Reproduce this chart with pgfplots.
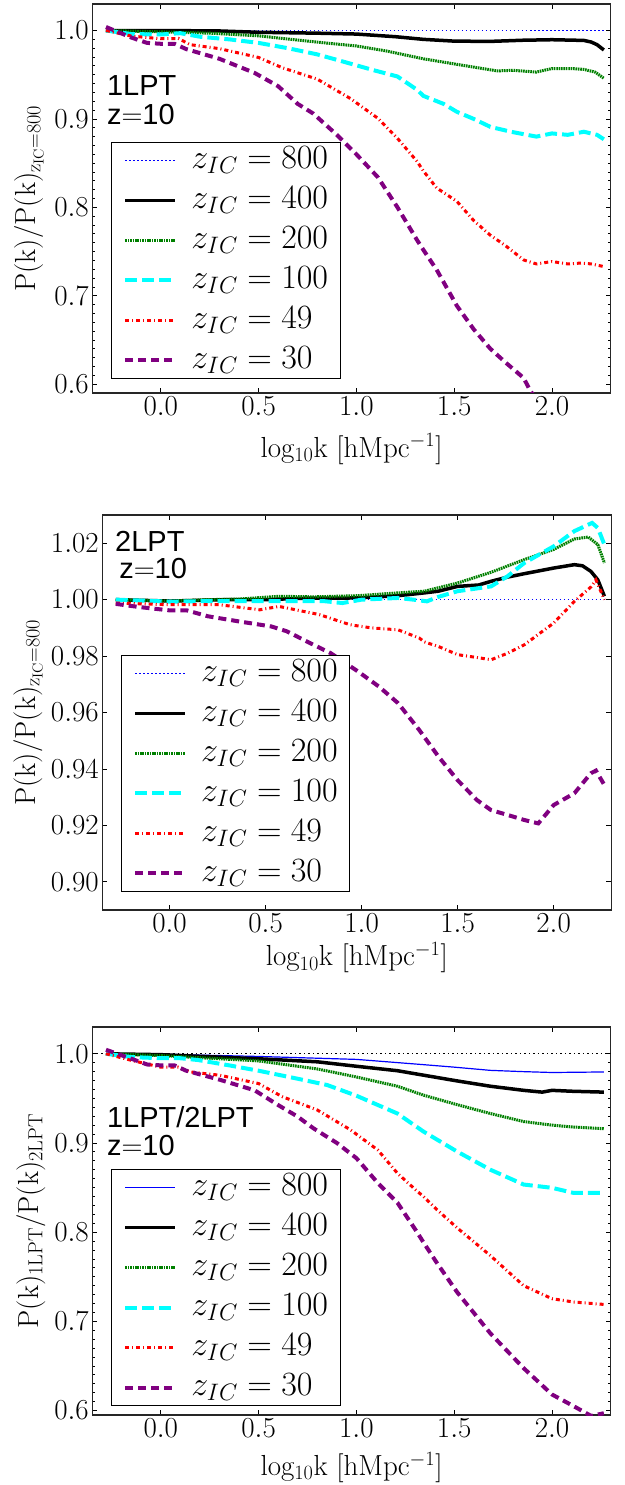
\RequirePackage{fix-cm}
\documentclass[border=0pt]{standalone}
\usepackage{fontspec}
\usepackage{pgfplots}
\pgfplotsset{compat=1.18}
\newfontfamily\hv{Liberation Sans}
\definecolor{cgreen}{rgb}{0,0.5,0}
\definecolor{ccyan}{rgb}{0,1,1}
\definecolor{cpurple}{rgb}{0.5,0,0.5}
\pgfplotsset{
  myaxis/.style={
    scale only axis,
    xmin=-0.35, xmax=2.3,
    xtick={0,0.5,1,1.5,2},
    tick align=inside,
    major tick length=5pt, minor tick length=3pt,
    every tick/.style={black, line width=0.8pt},
    axis line style={black!85, line width=1.2pt},
    tick label style={font=\fontsize{29}{34}\selectfont},
    label style={font=\fontsize{29}{34}\selectfont},
    xticklabel style={/pgf/number format/.cd, fixed, fixed zerofill, precision=1},
    xlabel={$\mathrm{log_{10}k\ [hMpc^{-1}]}$},
    legend cell align=left,
    legend style={font=\fontsize{34}{40}\selectfont, draw=black, line width=1pt, anchor=south west,
      inner xsep=12pt, inner ysep=2pt, row sep=8pt,
      nodes={inner sep=0pt, text height=24pt, text depth=8pt},
      /tikz/every odd column/.append style={column sep=14pt}},
    legend image code/.code={\draw[##1] (0pt,0pt) -- (50pt,0pt);},
  },
  s800/.style={blue, line width=1.2pt, dash pattern=on 1.5pt off 2.5pt},
  s400/.style={black, line width=3.5pt},
  s200/.style={cgreen, line width=3pt, dash pattern=on 1.6pt off 0.8pt},
  s100/.style={ccyan, line width=4pt, dash pattern=on 12pt off 5pt},
  s49/.style={red, line width=3pt, dash pattern=on 4pt off 3pt on 1pt off 3pt},
  s30/.style={cpurple, line width=4pt, dash pattern=on 8pt off 5pt},
}
\begin{document}
\begin{tikzpicture}
\useasboundingbox (0,0) rectangle (624pt,-1485pt);
% ---------------- Panel 1: 1LPT ----------------
\begin{axis}[myaxis, at={(92.3pt,-4pt)}, anchor=north west, width=518.4pt, height=389pt,
  ymin=0.59, ymax=1.03, ytick={0.6,0.7,0.8,0.9,1.0}, minor y tick num=9,
  yticklabel style={/pgf/number format/.cd, fixed, fixed zerofill, precision=1},
  ylabel={$\mathrm{P(k)/P(k)_{z_{IC}=800}}$},
  ylabel style={at={(axis description cs:-0.151,0.5)}, anchor=north, inner sep=0pt},
  xlabel style={at={(axis description cs:0.5,-0.103)}, anchor=north, inner sep=0pt},
  legend style={at={(0.036,0.036)}}]
\addplot[s800] coordinates {(-0.28,1.0) (2.27,1.0)};
\addlegendentry{$z_{IC} = 800$}
\addplot[s400] coordinates {(-0.28,1.0) (0.0,1.0) (0.3,0.9995) (0.5,0.998) (0.8,0.997) (1.0,0.996) (1.2,0.993) (1.343,0.990) (1.5,0.988) (1.685,0.9877) (1.85,0.989) (2.0,0.9896) (2.163,0.9888) (2.2,0.987) (2.23,0.984) (2.265,0.978)};
\addlegendentry{$z_{IC} = 400$}
\addplot[s200] coordinates {(-0.28,1.0) (0.0,0.9985) (0.25,0.997) (0.5,0.994) (0.75,0.988) (1.0,0.9825) (1.15,0.977) (1.343,0.968) (1.514,0.9617) (1.72,0.9543) (1.8,0.955) (1.92,0.953) (2.0,0.957) (2.1,0.957) (2.163,0.956) (2.22,0.953) (2.265,0.946)};
\addlegendentry{$z_{IC} = 200$}
\addplot[s100] coordinates {(-0.28,1.0) (-0.15,0.996) (0.0,0.9955) (0.1,0.997) (0.2,0.993) (0.35,0.990) (0.5,0.986) (0.65,0.980) (0.8,0.973) (0.93,0.965) (1.09,0.955) (1.21,0.948) (1.31,0.933) (1.343,0.926) (1.446,0.917) (1.514,0.908) (1.6,0.900) (1.685,0.891) (1.79,0.8855) (1.92,0.880) (2.0,0.8836) (2.08,0.882) (2.163,0.8855) (2.23,0.882) (2.265,0.877)};
\addlegendentry{$z_{IC} = 100$}
\addplot[s49] coordinates {(-0.28,1.0) (-0.15,0.9937) (0.0,0.9907) (0.09,0.991) (0.15,0.984) (0.3,0.9795) (0.5,0.9695) (0.62,0.958) (0.8,0.945) (0.97,0.923) (1.11,0.9007) (1.21,0.878) (1.31,0.852) (1.343,0.841) (1.41,0.822) (1.514,0.8067) (1.6,0.785) (1.685,0.7684) (1.76,0.757) (1.855,0.7405) (1.92,0.736) (2.0,0.7387) (2.08,0.736) (2.15,0.737) (2.2,0.736) (2.265,0.733)};
\addlegendentry{$z_{IC} = 49$}
\addplot[s30] coordinates {(-0.28,1.004) (-0.15,0.992) (-0.07,0.986) (0.0,0.985) (0.07,0.985) (0.13,0.979) (0.3,0.968) (0.48,0.952) (0.6,0.937) (0.7,0.917) (0.78,0.906) (0.9,0.882) (1.0,0.860) (1.11,0.834) (1.21,0.800) (1.31,0.763) (1.343,0.7517) (1.41,0.7295) (1.514,0.6885) (1.6,0.662) (1.685,0.640) (1.76,0.625) (1.855,0.607) (1.89,0.592) (1.95,0.575)};
\addlegendentry{$z_{IC} = 30$}
\node[anchor=base west, inner sep=0pt, font=\fontsize{29}{29}\selectfont\hv] at (rel axis cs:0.028,0.766) {1LPT};
\node[anchor=base west, inner sep=0pt, font=\fontsize{29}{29}\selectfont\hv] at (rel axis cs:0.028,0.690) {z$=$10};
\end{axis}
% ---------------- Panel 2: 2LPT ----------------
\begin{axis}[myaxis, at={(102.3pt,-515pt)}, anchor=north west, width=509pt, height=395pt,
  ymin=0.89, ymax=1.03, ytick={0.90,0.92,0.94,0.96,0.98,1.00,1.02},
  yticklabel style={/pgf/number format/.cd, fixed, fixed zerofill, precision=2},
  ylabel={$\mathrm{P(k)/P(k)_{z_{IC}=800}}$},
  ylabel style={at={(axis description cs:-0.175,0.5)}, anchor=north, inner sep=0pt},
  xlabel style={at={(axis description cs:0.5,-0.08)}, anchor=north, inner sep=0pt},
  legend style={at={(0.036,0.046)}}]
\addplot[s800] coordinates {(-0.28,1.0) (2.27,1.0)};
\addlegendentry{$z_{IC} = 800$}
\addplot[s400] coordinates {(-0.28,1.0) (0.0,0.9995) (0.3,1.0) (0.5,1.0) (0.7,1.0005) (0.98,1.0006) (1.19,1.0014) (1.327,1.0024) (1.4,1.003) (1.5,1.0047) (1.61,1.0052) (1.674,1.0065) (1.76,1.008) (1.847,1.0092) (2.0,1.0112) (2.108,1.0124) (2.15,1.012) (2.194,1.010) (2.23,1.007) (2.264,1.0012)};
\addlegendentry{$z_{IC} = 400$}
\addplot[s200] coordinates {(-0.28,1.0) (0.0,0.9995) (0.2,1.0) (0.36,1.0002) (0.57,1.0012) (0.75,1.001) (0.98,1.0014) (1.19,1.0024) (1.327,1.003) (1.5,1.0059) (1.674,1.0097) (1.847,1.0142) (2.0,1.0178) (2.108,1.0215) (2.18,1.0222) (2.23,1.0195) (2.264,1.013)};
\addlegendentry{$z_{IC} = 200$}
\addplot[s100] coordinates {(-0.28,1.0) (0.0,0.9993) (0.2,0.9995) (0.4,0.9995) (0.6,0.9995) (0.8,0.9995) (0.9,0.9988) (1.0,1.0) (1.19,1.0006) (1.27,1.0) (1.34,0.9994) (1.4,1.001) (1.5,1.003) (1.674,1.0047) (1.76,1.0083) (1.847,1.013) (2.0,1.0189) (2.108,1.0243) (2.2,1.0272) (2.23,1.0254) (2.264,1.0195)};
\addlegendentry{$z_{IC} = 100$}
\addplot[s49] coordinates {(-0.28,0.9988) (0.0,0.9982) (0.26,0.9982) (0.47,0.9964) (0.57,0.9976) (0.78,0.9947) (0.94,0.9911) (1.05,0.990) (1.19,0.9893) (1.30,0.9864) (1.327,0.985) (1.40,0.9834) (1.5,0.9805) (1.6,0.9795) (1.674,0.9787) (1.76,0.981) (1.847,0.984) (1.93,0.9882) (2.0,0.9917) (2.108,0.9994) (2.194,1.0045) (2.22,1.007) (2.264,1.0)};
\addlegendentry{$z_{IC} = 49$}
\addplot[s30] coordinates {(-0.28,0.9985) (-0.16,0.9974) (0.0,0.9962) (0.09,0.9962) (0.2,0.9941) (0.36,0.9923) (0.53,0.9905) (0.61,0.9888) (0.72,0.985) (0.84,0.981) (0.98,0.9746) (1.09,0.9692) (1.19,0.9633) (1.30,0.9538) (1.40,0.9444) (1.5,0.936) (1.6,0.929) (1.674,0.9254) (1.76,0.9237) (1.847,0.9219) (1.92,0.9207) (2.0,0.9272) (2.108,0.9314) (2.194,0.9385) (2.22,0.9394) (2.264,0.9343)};
\addlegendentry{$z_{IC} = 30$}
\node[anchor=base west, inner sep=0pt, font=\fontsize{29}{29}\selectfont\hv] at (rel axis cs:0.025,0.907) {2LPT};
\node[anchor=base west, inner sep=0pt, font=\fontsize{29}{29}\selectfont\hv] at (rel axis cs:0.033,0.838) {z$=$10};
\end{axis}
% ---------------- Panel 3: 1LPT/2LPT ----------------
\begin{axis}[myaxis, at={(92.3pt,-1027pt)}, anchor=north west, width=518.4pt, height=388pt,
  ymin=0.595, ymax=1.03, ytick={0.6,0.7,0.8,0.9,1.0}, minor y tick num=9,
  yticklabel style={/pgf/number format/.cd, fixed, fixed zerofill, precision=1},
  ylabel={$\mathrm{P(k)_{1LPT}/P(k)_{2LPT}}$},
  ylabel style={at={(axis description cs:-0.147,0.5)}, anchor=north, inner sep=0pt},
  xlabel style={at={(axis description cs:0.5,-0.094)}, anchor=north, inner sep=0pt},
  legend style={at={(0.036,0.023)}}]
\addplot[black, line width=1.2pt, dash pattern=on 1.5pt off 3pt, forget plot] coordinates {(-0.35,1.0) (2.3,1.0)};
\addplot[blue, line width=1.2pt] coordinates {(-0.28,1.0) (0.0,0.9995) (0.5,0.997) (1.0,0.9937) (1.343,0.9878) (1.5,0.985) (1.685,0.9814) (1.85,0.980) (2.0,0.979) (2.265,0.9796)};
\addlegendentry{$z_{IC} = 800$}
\addplot[s400] coordinates {(-0.28,1.0) (0.0,0.999) (0.5,0.9944) (0.8,0.991) (1.0,0.986) (1.21,0.981) (1.343,0.976) (1.514,0.9696) (1.685,0.9636) (1.855,0.959) (1.95,0.957) (2.0,0.959) (2.1,0.958) (2.265,0.957)};
\addlegendentry{$z_{IC} = 400$}
\addplot[s200] coordinates {(-0.28,1.0) (0.0,0.998) (0.5,0.992) (0.8,0.983) (1.0,0.974) (1.21,0.9636) (1.343,0.9536) (1.514,0.943) (1.685,0.933) (1.855,0.924) (2.0,0.920) (2.1,0.918) (2.265,0.916)};
\addlegendentry{$z_{IC} = 200$}
\addplot[s100] coordinates {(-0.28,1.0) (-0.15,0.9963) (0.0,0.995) (0.1,0.995) (0.19,0.993) (0.35,0.987) (0.5,0.981) (0.7,0.972) (0.85,0.965) (1.0,0.953) (1.21,0.933) (1.343,0.9128) (1.514,0.8905) (1.685,0.870) (1.855,0.8534) (1.95,0.851) (2.0,0.8497) (2.11,0.844) (2.265,0.844)};
\addlegendentry{$z_{IC} = 100$}
\addplot[s49] coordinates {(-0.28,1.0) (-0.15,0.9926) (0.0,0.985) (0.09,0.985) (0.15,0.9796) (0.3,0.976) (0.5,0.9666) (0.62,0.952) (0.8,0.937) (0.97,0.9147) (1.11,0.892) (1.21,0.866) (1.31,0.846) (1.343,0.840) (1.41,0.8256) (1.514,0.805) (1.685,0.7737) (1.855,0.740) (2.0,0.7254) (2.11,0.7217) (2.265,0.719)};
\addlegendentry{$z_{IC} = 49$}
\addplot[s30] coordinates {(-0.28,1.0045) (-0.15,0.9944) (-0.07,0.988) (0.0,0.987) (0.07,0.987) (0.13,0.981) (0.3,0.971) (0.48,0.959) (0.6,0.9425) (0.7,0.9295) (0.78,0.9165) (0.9,0.90) (1.0,0.883) (1.11,0.855) (1.21,0.833) (1.31,0.800) (1.343,0.7885) (1.41,0.766) (1.514,0.733) (1.685,0.6865) (1.855,0.6475) (2.0,0.618) (2.11,0.605) (2.2,0.594) (2.265,0.597)};
\addlegendentry{$z_{IC} = 30$}
\node[anchor=base west, inner sep=0pt, font=\fontsize{29}{29}\selectfont\hv] at (rel axis cs:0.028,0.740) {1LPT/2LPT};
\node[anchor=base west, inner sep=0pt, font=\fontsize{29}{29}\selectfont\hv] at (rel axis cs:0.028,0.670) {z$=$10};
\end{axis}
\end{tikzpicture}
\end{document}
